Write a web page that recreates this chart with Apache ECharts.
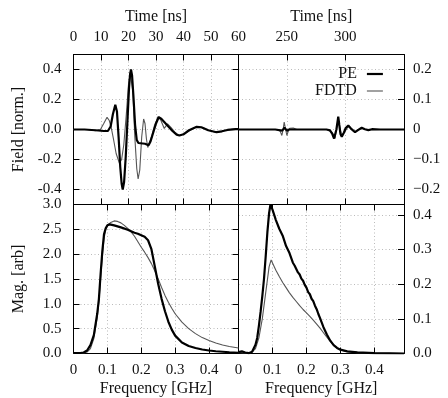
<!DOCTYPE html>
<html>
<head>
<meta charset="utf-8">
<script src="https://cdn.jsdelivr.net/npm/echarts@6/dist/echarts.min.js"></script>
<style>html,body{margin:0;padding:0;background:#fff;}#c{width:448px;height:398px;}</style>
</head>
<body>
<div id="c"></div>
<script>
// ---- tick labels ----
const timeTicksLeft = [0, 10, 20, 30, 40, 50, 60];
const timeTicksRight = [250, 300];
const fieldTicksLeft = [-0.4, -0.2, 0, 0.2, 0.4];
const fieldTicksRight = [-0.2, -0.1, 0, 0.1, 0.2];
const freqTicks = [0, 0.1, 0.2, 0.3, 0.4];
const magTicksLeft = [0, 0.5, 1, 1.5, 2, 2.5, 3];
const magTicksRight = [0, 0.1, 0.2, 0.3, 0.4];

// ---- top-left: early time window (ns, normalized field) ----
const peEarlyT = [0, 4, 8, 11, 12.5, 13.5, 14.3, 15.2, 15.8, 16.4, 17, 17.5, 17.9, 18.4, 19, 19.6, 20.2, 20.6, 20.9, 21.3, 21.8, 22.4, 23, 23.6, 24.3, 26, 27.3, 28, 29, 30, 31, 32, 33, 34.5, 36, 37.5, 38.5, 40, 42, 44.8, 46.5, 49, 52, 54, 56, 59, 60];
const peEarlyV = [0, 0, -0.005, -0.01, -0.01, 0.02, 0.1, 0.165, 0.12, -0.05, -0.25, -0.36, -0.4, -0.35, -0.18, 0.05, 0.28, 0.37, 0.4, 0.36, 0.22, 0.03, -0.07, -0.09, -0.093, -0.095, -0.105, -0.08, -0.02, 0.04, 0.083, 0.07, 0.05, 0.02, -0.01, -0.035, -0.04, -0.032, -0.005, 0.018, 0.015, -0.005, -0.018, -0.012, -0.003, 0.003, 0.002];
const fdEarlyT = [0, 5, 8, 9.8, 11, 12.2, 13, 13.7, 14.5, 15.5, 16.7, 17.5, 18.3, 19.2, 20, 20.6, 21, 21.6, 22.3, 23, 23.5, 24.1, 24.8, 25.5, 26, 26.5, 27, 27.6, 28.5, 29.5, 30.8, 31.8, 33, 34.2, 35.5, 37, 38.5, 40, 42, 44.8, 47, 49, 52, 54, 56, 59, 60];
const fdEarlyV = [0, 0, -0.008, 0, 0.04, 0.082, 0.06, 0.014, -0.06, -0.16, -0.225, -0.2, -0.1, 0.1, 0.3, 0.38, 0.37, 0.25, -0.05, -0.26, -0.33, -0.27, -0.05, 0.07, 0.04, -0.06, -0.12, -0.11, -0.04, 0.03, 0.085, 0.06, 0.007, 0.037, 0.012, -0.02, -0.04, -0.03, -0.01, 0.018, 0.012, -0.005, -0.02, -0.01, -0.002, 0.003, 0];

// ---- top-right: late time window ----
const peLateT = [208.5, 240, 246, 248, 250, 252, 284, 287, 289, 290.5, 291.3, 292.5, 294.1, 295, 296, 297.1, 299, 300.5, 302.7, 305, 308.5, 311, 314.2, 317, 319.9, 323, 330, 350.5];
const peLateV = [0, 0, -0.004, 0.006, -0.004, 0, 0, -0.003, -0.015, -0.03, -0.035, 0.0, 0.043, 0.015, -0.015, -0.024, -0.01, 0.005, 0.013, 0.003, -0.009, -0.002, 0.006, 0.001, -0.002, 0.001, 0, 0];
const fdLateT = [208.5, 240, 243, 244.5, 245.7, 246.8, 247.7, 248.7, 250, 251.2, 252.5, 254, 255.5, 257, 258.5, 262, 285, 289, 291.3, 292.6, 294, 295.5, 297, 299.5, 302.7, 305.5, 308.5, 311, 314, 317, 320, 330, 350.5];
const fdLateV = [0, 0, 0, -0.008, -0.02, 0.0, 0.025, 0.005, -0.02, -0.005, 0.004, 0, 0.005, 0.007, 0, 0, 0, -0.01, -0.03, 0.0, 0.035, 0.005, -0.02, -0.008, 0.01, 0.002, -0.007, -0.001, 0.004, 0.0, -0.001, 0, 0];

// ---- bottom-left: spectrum of early window (GHz, arb) ----
const peSpecAF = [0, 0.02, 0.03, 0.04, 0.05, 0.06, 0.07, 0.075, 0.08, 0.085, 0.09, 0.095, 0.1, 0.107, 0.12, 0.14, 0.16, 0.17, 0.18, 0.19, 0.2, 0.21, 0.22, 0.23, 0.24, 0.25, 0.26, 0.27, 0.28, 0.29, 0.3, 0.32, 0.34, 0.36, 0.38, 0.4, 0.42, 0.44, 0.46, 0.487];
const peSpecAV = [0.01, 0.01, 0.02, 0.06, 0.17, 0.37, 0.8, 1.1, 1.6, 2.05, 2.4, 2.52, 2.58, 2.6, 2.58, 2.54, 2.49, 2.46, 2.43, 2.41, 2.38, 2.35, 2.28, 2.1, 1.75, 1.4, 1.1, 0.85, 0.64, 0.48, 0.36, 0.22, 0.15, 0.11, 0.08, 0.06, 0.045, 0.035, 0.025, 0.015];
const fdSpecAF = [0, 0.03, 0.04, 0.05, 0.06, 0.07, 0.075, 0.08, 0.085, 0.09, 0.095, 0.1, 0.11, 0.12, 0.13, 0.14, 0.15, 0.16, 0.17, 0.18, 0.19, 0.2, 0.21, 0.22, 0.23, 0.24, 0.25, 0.26, 0.27, 0.28, 0.29, 0.3, 0.32, 0.34, 0.36, 0.38, 0.4, 0.42, 0.44, 0.46, 0.487];
const fdSpecAV = [0, 0.01, 0.03, 0.1, 0.3, 0.72, 1.05, 1.5, 1.95, 2.3, 2.5, 2.58, 2.64, 2.67, 2.66, 2.63, 2.58, 2.52, 2.45, 2.36, 2.25, 2.14, 2.04, 1.93, 1.81, 1.66, 1.5, 1.33, 1.17, 1.03, 0.91, 0.8, 0.63, 0.5, 0.4, 0.32, 0.26, 0.21, 0.17, 0.14, 0.11];

// ---- bottom-right: spectrum of late window ----
const peSpecBF = [0, 0.01, 0.02, 0.03, 0.04, 0.05, 0.055, 0.06, 0.065, 0.07, 0.075, 0.08, 0.085, 0.09, 0.094, 0.1, 0.11, 0.12, 0.13, 0.14, 0.15, 0.16, 0.165, 0.17, 0.175, 0.18, 0.185, 0.19, 0.195, 0.2, 0.205, 0.21, 0.215, 0.22, 0.225, 0.23, 0.235, 0.24, 0.245, 0.25, 0.26, 0.27, 0.28, 0.29, 0.3, 0.32, 0.35, 0.4, 0.487];
const peSpecBV = [0.004, 0.006, 0.003, 0.001, 0.005, 0.025, 0.045, 0.08, 0.12, 0.165, 0.215, 0.28, 0.35, 0.405, 0.43, 0.415, 0.385, 0.36, 0.34, 0.31, 0.29, 0.262, 0.254, 0.244, 0.234, 0.228, 0.216, 0.21, 0.198, 0.19, 0.177, 0.171, 0.158, 0.151, 0.138, 0.128, 0.114, 0.102, 0.089, 0.076, 0.055, 0.037, 0.024, 0.016, 0.011, 0.006, 0.003, 0.001, 0];
const fdSpecBF = [0, 0.03, 0.04, 0.05, 0.06, 0.07, 0.08, 0.09, 0.096, 0.1, 0.11, 0.12, 0.13, 0.14, 0.15, 0.16, 0.17, 0.18, 0.19, 0.2, 0.21, 0.22, 0.23, 0.24, 0.25, 0.26, 0.27, 0.28, 0.29, 0.3, 0.32, 0.35, 0.4, 0.487];
const fdSpecBV = [0.003, 0.001, 0.004, 0.014, 0.045, 0.1, 0.175, 0.25, 0.27, 0.265, 0.24, 0.222, 0.205, 0.19, 0.175, 0.162, 0.15, 0.138, 0.127, 0.117, 0.107, 0.096, 0.085, 0.073, 0.06, 0.047, 0.035, 0.024, 0.016, 0.01, 0.005, 0.002, 0.001, 0];

const zip = (a, b) => a.map((x, i) => [x, b[i]]);
const FONT = 'Liberation Serif';
const TXT = '#111';
const lineBlack = { color: '#000', width: 1 };
const split = { show: true, lineStyle: { color: '#bbb', type: [1, 2.5], width: 1 } };

function axis(o) {
  return Object.assign({
    type: 'value',
    axisLine: { show: true, onZero: false, lineStyle: lineBlack },
    axisTick: { show: true, inside: true, length: 6, lineStyle: lineBlack, customValues: o.ticks },
    axisLabel: { show: !o.mirror, customValues: o.ticks, fontFamily: FONT, fontSize: 15, color: TXT, margin: o.margin || 10, formatter: o.fmt },
    splitLine: o.mirror ? { show: false } : split,
    nameTextStyle: { fontFamily: FONT, fontSize: 16, color: TXT },
    nameLocation: 'middle'
  }, o.extra);
}
const fmt1 = v => v.toFixed(1);
const fmtFreq = v => (v === 0 ? '0' : v.toFixed(1));
const fmtField = v => (v === 0 ? '0.0' : v.toFixed(1));
const fmtFieldR = v => (v === 0 ? '0' : (v < 0 ? '\u2212' + Math.abs(v).toFixed(1) : v.toFixed(1)));

const option = {
  animation: false,
  backgroundColor: '#fff',
  grid: [
    { left: 73.5, top: 54.5, width: 165, height: 150 },
    { left: 238.5, top: 54.5, width: 165.5, height: 150 },
    { left: 73.5, top: 204.5, width: 165, height: 149 },
    { left: 238.5, top: 204.5, width: 165.5, height: 149 }
  ],
  xAxis: [
    axis({ ticks: timeTicksLeft, fmt: v => String(v), extra: { gridIndex: 0, position: 'top', min: 0, max: 60, name: 'Time [ns]', nameGap: 30 } }),
    axis({ ticks: timeTicksRight, fmt: v => String(v), extra: { gridIndex: 1, position: 'top', min: 208.5, max: 350.5, name: 'Time [ns]', nameGap: 30 } }),
    axis({ ticks: freqTicks, fmt: fmtFreq, margin: 9, extra: { gridIndex: 2, position: 'bottom', min: 0, max: 0.487, name: 'Frequency [GHz]', nameGap: 27 } }),
    axis({ ticks: freqTicks, fmt: fmtFreq, margin: 9, extra: { gridIndex: 3, position: 'bottom', min: 0, max: 0.487, name: 'Frequency [GHz]', nameGap: 27 } }),
    axis({ mirror: true, ticks: timeTicksLeft, extra: { gridIndex: 0, position: 'bottom', min: 0, max: 60 } }),
    axis({ mirror: true, ticks: timeTicksRight, extra: { gridIndex: 1, position: 'bottom', min: 208.5, max: 350.5 } }),
    axis({ mirror: true, ticks: freqTicks, extra: { gridIndex: 2, position: 'top', min: 0, max: 0.487 } }),
    axis({ mirror: true, ticks: freqTicks, extra: { gridIndex: 3, position: 'top', min: 0, max: 0.487 } })
  ],
  yAxis: [
    axis({ ticks: fieldTicksLeft, fmt: fmtField, margin: 12, extra: { gridIndex: 0, position: 'left', min: -0.5, max: 0.5, name: 'Field [norm.]', nameGap: 47 } }),
    axis({ ticks: fieldTicksRight, fmt: fmtFieldR, margin: 9, extra: { gridIndex: 1, position: 'right', min: -0.25, max: 0.25 } }),
    axis({ ticks: magTicksLeft, fmt: fmt1, margin: 12, extra: { gridIndex: 2, position: 'left', min: 0, max: 3, name: 'Mag. [arb]', nameGap: 47 } }),
    axis({ ticks: magTicksRight, fmt: fmt1, margin: 9, extra: { gridIndex: 3, position: 'right', min: 0, max: 0.43 } }),
    axis({ mirror: true, ticks: fieldTicksLeft, extra: { gridIndex: 0, position: 'right', min: -0.5, max: 0.5 } }),
    axis({ mirror: true, ticks: magTicksLeft, extra: { gridIndex: 2, position: 'right', min: 0, max: 3 } })
  ],
  legend: {
    data: ['PE', 'FDTD'],
    orient: 'vertical',
    align: 'right',
    right: 59,
    top: 61,
    itemWidth: 16,
    itemHeight: 10,
    itemGap: 1,
    lineStyle: { width: 'inherit' },
    itemStyle: { opacity: 0 },
    textStyle: { fontFamily: FONT, fontSize: 16, color: TXT, lineHeight: 16, padding: [0, 5, 0, 0] }
  },
  series: []
};

function ser(name, data, xi, yi, thick) {
  return {
    type: 'line', name: name, data: data, xAxisIndex: xi, yAxisIndex: yi,
    symbol: 'none', showSymbol: false, clip: true, z: thick ? 3 : 2,
    lineStyle: thick ? { color: '#000', width: 2.2 } : { color: '#555', width: 1.1 },
    itemStyle: { color: thick ? '#000' : '#555' }
  };
}
option.series.push(
  ser('FDTD', zip(fdEarlyT, fdEarlyV), 0, 0, false),
  ser('PE', zip(peEarlyT, peEarlyV), 0, 0, true),
  ser('FDTD', zip(fdLateT, fdLateV), 1, 1, false),
  ser('PE', zip(peLateT, peLateV), 1, 1, true),
  ser('FDTD', zip(fdSpecAF, fdSpecAV), 2, 2, false),
  ser('PE', zip(peSpecAF, peSpecAV), 2, 2, true),
  ser('FDTD', zip(fdSpecBF, fdSpecBV), 3, 3, false),
  ser('PE', zip(peSpecBF, peSpecBV), 3, 3, true)
);

const chart = echarts.init(document.getElementById('c'), null, { renderer: 'canvas' });
chart.setOption(option);
</script>
</body>
</html>
